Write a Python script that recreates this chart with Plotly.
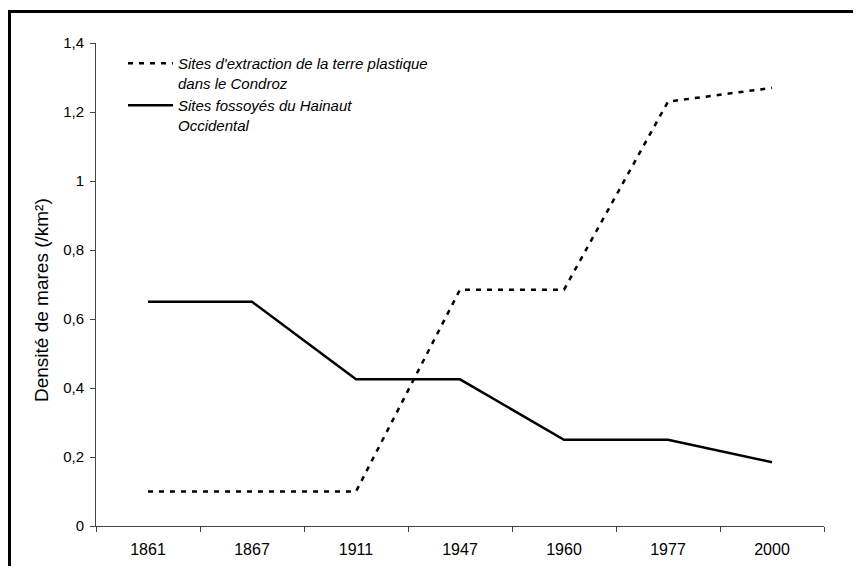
import plotly.graph_objects as go

years = ["1861", "1867", "1911", "1947", "1960", "1977", "2000"]
condroz = [0.10, 0.10, 0.10, 0.685, 0.685, 1.23, 1.27]
hainaut = [0.65, 0.65, 0.425, 0.425, 0.25, 0.25, 0.185]
name_condroz = "Sites d'extraction de la terre plastique<br>dans le Condroz"
name_hainaut = "Sites fossoyés du Hainaut<br>Occidental"
y_title = "Densité de mares (/km²)"
y_ticks = [0, 0.2, 0.4, 0.6, 0.8, 1.0, 1.2, 1.4]

FONT = "Liberation Sans, Arial, sans-serif"
# page is 861x574; browser body has an 8px margin, so the figure is smaller
OFF = 8
W, H = 861 - 2 * OFF, 574 - 2 * OFF
# plot area in page pixels: x 96..824, y 43..526
PX0, PX1, PY0, PY1 = 96, 824, 43, 526
L, T = PX0 - OFF, PY0 - OFF
R, B = W - (PX1 - OFF), H - (PY1 - OFF)
pw, ph = PX1 - PX0, PY1 - PY0


def px(x):
    return (x - PX0) / pw


def py(y):
    return (PY1 - y) / ph


fig = go.Figure()
fig.add_trace(go.Scatter(
    x=years, y=condroz, mode="lines", name=name_condroz,
    line=dict(color="black", width=2.5, dash="5px,6px"),
))
fig.add_trace(go.Scatter(
    x=years, y=hainaut, mode="lines", name=name_hainaut,
    line=dict(color="black", width=2.5),
))

# outer frame (top and left edges visible)
fig.add_shape(type="rect", xref="paper", yref="paper",
              x0=px(9.5), x1=1.5, y0=-0.5, y1=py(11.5),
              line=dict(color="black", width=3), fillcolor="rgba(0,0,0,0)")

# y axis title
fig.add_annotation(text=y_title, xref="paper", yref="paper",
                   x=px(41), y=py(300), xanchor="center", yanchor="middle",
                   textangle=-90, showarrow=False,
                   font=dict(family=FONT, size=19, color="black"))

fig.update_layout(
    width=W, height=H,
    margin=dict(l=L, r=R, t=T, b=B, autoexpand=False),
    paper_bgcolor="white", plot_bgcolor="white",
    separators=", ",
    font=dict(family=FONT, color="black"),
    showlegend=True,
    legend=dict(
        x=px(123), y=py(47), xanchor="left", yanchor="top",
        bgcolor="rgba(0,0,0,0)", borderwidth=0,
        font=dict(family=FONT, size=15, color="black", style="italic"),
        itemwidth=45, valign="top", tracegroupgap=1,
    ),
    xaxis=dict(
        type="category", range=[-0.5, 6.5], automargin=False,
        showline=True, linecolor="#444444", linewidth=1,
        ticks="outside", tickson="boundaries", ticklen=5, tickcolor="#444444",
        tickfont=dict(family=FONT, size=16, color="black"),
        ticklabelstandoff=9,
        showgrid=False, zeroline=False,
    ),
    yaxis=dict(
        range=[0, 1.4], tickvals=y_ticks, automargin=False,
        showline=True, linecolor="#444444", linewidth=1,
        ticks="outside", ticklen=5, tickcolor="#444444",
        tickfont=dict(family=FONT, size=15, color="black"),
        ticklabelstandoff=3,
        showgrid=False, zeroline=False,
    ),
)

fig.write_html("out.html")
